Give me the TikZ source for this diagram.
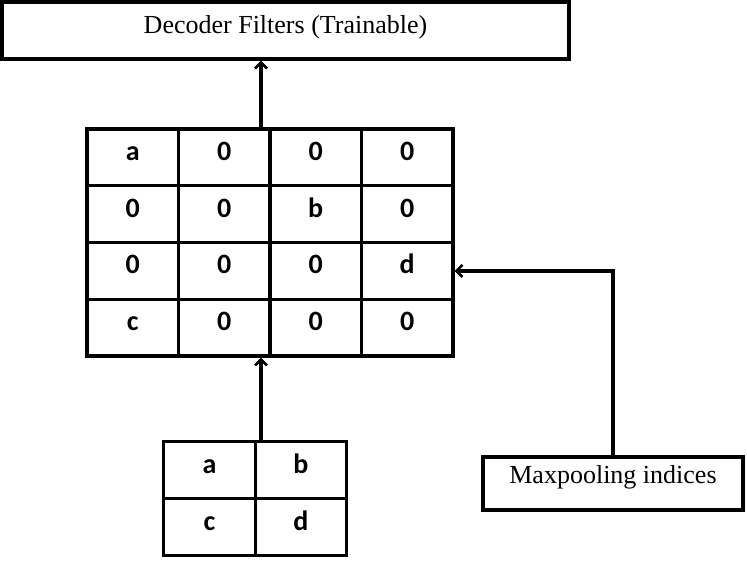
\documentclass[tikz,border=0pt]{standalone}
\usepackage{fontspec}
\setmainfont{Liberation Serif}
\newfontfamily\cellfont{Carlito}
\usetikzlibrary{arrows.meta,calc}
\begin{document}
\begin{tikzpicture}[x=1pt,y=-1pt,
  box/.style={draw, line width=3.4pt, inner sep=0pt},
  lbl/.style={font=\fontsize{26}{30}\selectfont, anchor=base, inner sep=0pt},
  cell/.style={draw, line width=3.2pt, minimum width=91.5pt, minimum height=56.75pt, inner sep=0pt},
  ctext/.style={font=\cellfont\bfseries\fontsize{28}{32}\selectfont, inner sep=0pt, anchor=base},
  arr/.style={line width=3.2pt, -{Straight Barb[length=6pt,width=12pt,line width=2.6pt]}}]
\useasboundingbox (0,0) rectangle (747,560);
% top box
\node[box, minimum width=567pt, minimum height=57pt] (dec) at (285.5,30.5) {};
\node[lbl] (dect) at (285.5,33.5) {Decoder Filters (Trainable)};
% big grid
\foreach \r/\y in {1/157.4,2/214.1,3/270.9,4/327.6}{
  \foreach \c/\x in {1/132.75,2/224.25,3/315.75,4/407.25}{
    \node[cell] (g-\r-\c) at (\x,\y) {};
  }
}
\path[every node/.style={ctext}]
  (g-1-1) ++(0,3) node (t11) {a}  (g-1-2) ++(0,3) node (t12) {0} (g-1-3) ++(0,3) node (t13) {0} (g-1-4) ++(0,3) node (t14) {0}
  (g-2-1) ++(0,3) node (t21) {0}  (g-2-2) ++(0,3) node (t22) {0} (g-2-3) ++(0,3) node (t23) {b} (g-2-4) ++(0,3) node (t24) {0}
  (g-3-1) ++(0,3) node (t31) {0}  (g-3-2) ++(0,3) node (t32) {0} (g-3-3) ++(0,3) node (t33) {0} (g-3-4) ++(0,3) node (t34) {d}
  (g-4-1) ++(0,3) node (t41) {c}  (g-4-2) ++(0,3) node (t42) {0} (g-4-3) ++(0,3) node (t43) {0} (g-4-4) ++(0,3) node (t44) {0};
% small grid
\node[cell, minimum height=57pt] (s-1-1) at (209.5,470) {};
\node[cell, minimum height=57pt] (s-1-2) at (301,470) {};
\node[cell, minimum height=57pt] (s-2-1) at (209.5,527) {};
\node[cell, minimum height=57pt] (s-2-2) at (301,527) {};
\path[every node/.style={ctext}]
  (s-1-1) ++(0,3) node (u11) {a} (s-1-2) ++(0,3) node (u12) {b}
  (s-2-1) ++(0,3) node (u21) {c} (s-2-2) ++(0,3) node (u22) {d};
% maxpooling box
\node[box, minimum width=260pt, minimum height=53pt] (mp) at (613,483.5) {};
\node[lbl] (mpt) at (613,483.5) {Maxpooling indices};
% connectors
\coordinate (ax) at (261,0);
\draw[arr] (g-1-1.north -| ax) -- (ax |- dec.south);
\draw[arr] (s-1-1.north -| ax) -- (ax |- g-4-2.south);
\draw[arr] (mp.north) |- (g-3-4.east);
\end{tikzpicture}
\end{document}
